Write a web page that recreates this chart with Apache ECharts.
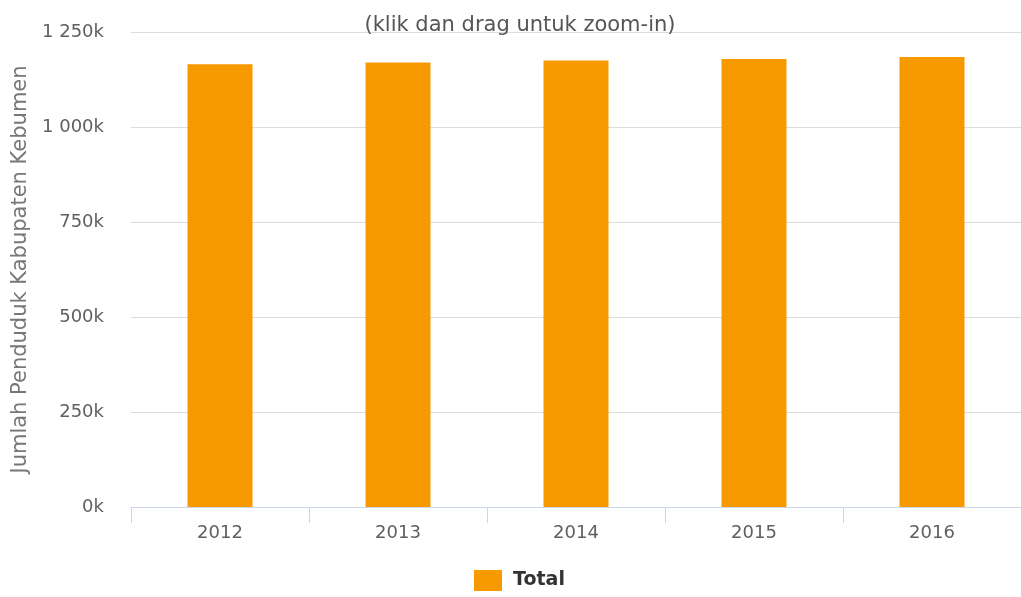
<!DOCTYPE html>
<html><head><meta charset="utf-8">
<script src="https://cdn.jsdelivr.net/npm/echarts@6/dist/echarts.min.js"></script>
<style>html,body{margin:0;padding:0;background:#fff}#c{width:1021px;height:597px}</style>
</head><body><div id="c"></div>
<script>
const categories = ['2012','2013','2014','2015','2016'];
const totalValues = [1165000, 1170000, 1175000, 1179000, 1184000];
const seriesName = 'Total';
const titleText = '(klik dan drag untuk zoom-in)';
const yAxisName = 'Jumlah Penduduk Kabupaten Kebumen';

function fmt(v){
  const k = Math.round(v/1000);
  return String(k).replace(/\B(?=(\d{3})+(?!\d))/g,' ') + 'k';
}
const FONT = 'DejaVu Sans';
const chart = echarts.init(document.getElementById('c'), null, {renderer:'canvas'});
chart.setOption({
  animation:false,
  textStyle:{fontFamily:FONT},
  title:{text:titleText,left:515,top:10,textAlign:'center',
    textStyle:{fontFamily:FONT,fontSize:21,fontWeight:'normal',color:'#555'}},
  legend:{bottom:1,left:469,itemWidth:28,itemHeight:21,icon:'rect',itemGap:10,
    textStyle:{fontFamily:FONT,fontSize:19,fontWeight:'bold',color:'#333',padding:[0,0,0,6]},
    data:[seriesName]},
  grid:{left:131,top:32,right:0,height:475,containLabel:false},
  xAxis:{type:'category',data:categories,
    axisLine:{lineStyle:{color:'#ccd6eb',width:1}},
    axisTick:{show:true,length:16,alignWithLabel:false,lineStyle:{color:'#ccd6eb'}},
    axisLabel:{fontFamily:FONT,fontSize:18,color:'#606060',margin:17}},
  yAxis:{type:'value',min:0,max:1250000,interval:250000,
    name:yAxisName,nameLocation:'middle',nameGap:98,nameRotate:90,
    nameTextStyle:{fontFamily:FONT,fontSize:21,color:'#777'},
    axisLabel:{fontFamily:FONT,fontSize:18,color:'#606060',margin:27,formatter:fmt},
    splitLine:{lineStyle:{color:'#dcdcdc'}},
    axisLine:{show:false},axisTick:{show:false}},
  series:[{name:seriesName,type:'bar',data:totalValues,barWidth:65,
    itemStyle:{color:'#f79900'}}]
});
</script></body></html>
